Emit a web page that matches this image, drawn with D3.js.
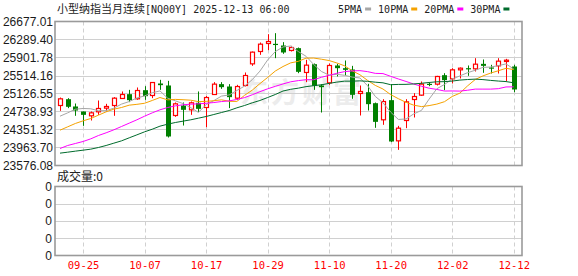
<!DOCTYPE html>
<html><head><meta charset="utf-8">
<script src="https://cdn.jsdelivr.net/npm/d3@7/dist/d3.min.js"></script>
<style>
html,body{margin:0;padding:0;background:#fff;}
svg{display:block;}
</style>
</head><body>
<svg id="c" width="578" height="276"></svg>
<script>
const dates = ["09-22","09-23","09-24","09-25","09-26","09-29","09-30","10-01","10-02","10-03",
"10-06","10-07","10-08","10-09","10-10","10-13","10-14","10-15","10-16","10-17",
"10-20","10-21","10-22","10-23","10-24","10-27","10-28","10-29","10-30","10-31",
"11-03","11-04","11-05","11-06","11-07","11-10","11-11","11-12","11-13","11-14",
"11-17","11-18","11-19","11-20","11-21","11-24","11-25","11-26","11-27","11-28",
"12-01","12-02","12-03","12-04","12-05","12-08","12-09","12-10","12-11","12-12"];
const opens = [24868,25004,24847,24739,24646,24732,24811,24868,25019,25112,
25012,25198,25083,25342,25299,24653,24868,24775,24926,24825,
25105,25328,25277,25026,25299,25765,26031,26203,26196,26160,
26053,26103,25579,25758,25299,25356,25730,25672,25643,25127,
25155,24918,24560,24983,24107,24545,24997,25091,25335,25328,
25521,25442,25636,25672,25658,25765,25687,25722,25816,25708];
const highs = [25040,25026,24911,24739,24739,24976,24904,25048,25170,25205,
25256,25284,25370,25421,25399,24933,24933,24954,25170,25076,
25371,25371,25328,25313,25579,26031,26225,26404,26426,26232,
26153,26117,25852,25773,25328,25773,25765,25837,25722,25299,
25335,24932,25004,25328,24430,25004,25134,25385,25363,25507,
25564,25672,25687,25730,25887,25859,25744,25887,25873,25744];
const lows = [24753,24811,24646,24430,24545,24667,24739,24646,25019,24940,
24990,24990,25026,25205,24179,24624,24437,24667,24725,24402,
25098,25227,24811,24990,25277,25722,25959,26060,25887,25981,
26031,25564,25371,25205,24717,25313,25493,25514,25012,24653,
24760,24387,24452,24080,23913,24380,24610,25076,25284,25299,
25198,25342,25450,25507,25600,25572,25557,25557,25392,25155];
const closes = [25012,24840,24760,24667,24710,24804,24847,25026,25105,24983,
25191,25069,25363,25306,24201,24904,24775,24926,24796,25040,
25328,25263,25048,25277,25514,26017,26189,26246,26182,26010,
26117,25593,25737,25292,25263,25730,25672,25636,25098,25170,
24897,24516,24954,24093,24380,24947,25062,25328,25313,25493,
25414,25636,25672,25658,25758,25722,25672,25823,25844,25213];
const ma5Head = [24638,24710,24789,24804];
const ma10Head = [24337,24409,24481,24538,24588,24660,24732,24789,24825];
const ma20Head = [23942,24007,24050,24093,24150,24222,24280,24344,24416,24488,
24560,24638,24710,24775,24825,24861,24883,24897,24904];
const ma30Head = [23842,23863,23885,23906,23928,23964,24007,24057,24107,24172,
24236,24301,24358,24423,24466,24502,24531,24560,24595,24631,
24674,24717,24760,24818,24868,24926,24976,25040,25105];
const yTicks = [26677.01,26289.40,25901.78,25514.16,25126.55,24738.93,24351.32,23963.70,23576.08];
const xTickLabels = ["09-25","10-07","10-17","10-29","11-10","11-20","12-02","12-12"];
const volTickLabels = ["0","0","0","0","0"];
const maNames = ["5PMA","10PMA","20PMA","30PMA"];
const maPeriods = [5,10,20,30];
const maColors = ["#a6a6a6","#f5a200","#ff00ff","#006b2c"];
const titleCJK = "小型纳指当月连续";
const titleRest = "[NQ00Y] 2025-12-13 06:00";

const svg = d3.select("#c");
const L = 55, R = 522, T = 21.5, B = 165.5;
const VT = 186.5, VB = 255.5;
const x = d3.scalePoint().domain(dates).range([60, 513.7]);
const y = d3.scaleLinear().domain([23576.08, 26677.01]).range([B, T]);
const vy = d3.scalePoint().domain(d3.range(volTickLabels.length)).range([VT, VB]);
const gridC = "#d0d0d0", borderC = "#9a9a9a";
const px = v => Math.round(v) + 0.5;

// title
const title = svg.append("text").attr("x", 57).attr("y", 13).attr("fill", "#222");
title.append("tspan").attr("font-family", "'Noto Sans CJK SC'").attr("font-size", 11).text(titleCJK);
title.append("tspan").attr("font-family", "'DejaVu Sans Mono'").attr("font-size", 10).text(titleRest);

// legend
let lx = 338;
maNames.forEach((n, k) => {
  const t = svg.append("text").attr("x", lx).attr("y", 13).attr("font-family", "'DejaVu Sans Mono'")
    .attr("font-size", 10).attr("fill", "#222").text(n);
  const w = t.node().getComputedTextLength();
  svg.append("rect").attr("x", lx + w + 3).attr("y", 7.5).attr("width", 6).attr("height", 3).attr("fill", maColors[k]);
  lx += w + 3 + 6 + 7;
});

// watermark
svg.append("text").attr("x", 240).attr("y", 103).attr("font-family", "'Noto Sans CJK SC'")
  .attr("font-size", 28).attr("font-weight", "bold").attr("letter-spacing", 3)
  .attr("fill", "#ececec").text("东方财富");

// main grid
const g = svg.append("g");
g.selectAll("line.h").data(yTicks.slice(1, -1)).join("line")
  .attr("x1", L).attr("x2", R).attr("y1", d => px(y(d))).attr("y2", d => px(y(d)))
  .attr("stroke", gridC).attr("stroke-width", 1);
g.selectAll("line.v").data(xTickLabels).join("line")
  .attr("x1", d => px(x(d))).attr("x2", d => px(x(d))).attr("y1", T).attr("y2", B)
  .attr("stroke", gridC).attr("stroke-dasharray", "4,3");

// y axis labels
const ya = svg.append("g").attr("transform", `translate(${L - 2},0)`)
  .call(d3.axisLeft(y).tickValues(yTicks).tickFormat(d3.format(".2f")).tickSize(0).tickPadding(0));
ya.select(".domain").remove();
ya.selectAll("text").attr("font-family", "'Liberation Sans', Arial").attr("font-size", 12).attr("fill", "#1a1a1a");

// candles
const cg = svg.append("g");
dates.forEach((d, i) => {
  const cx = Math.round(x(d));
  const up = closes[i] >= opens[i];
  const col = up ? "#ff0000" : "#008000";
  cg.append("line").attr("x1", cx + 0.5).attr("x2", cx + 0.5)
    .attr("y1", y(highs[i])).attr("y2", y(lows[i])).attr("stroke", col).attr("stroke-width", 1);
  const top = y(Math.max(opens[i], closes[i])), bot = y(Math.min(opens[i], closes[i]));
  if (up) {
    cg.append("rect").attr("x", cx - 1.5).attr("y", top).attr("width", 4).attr("height", Math.max(1, bot - top))
      .attr("fill", "#fff").attr("stroke", col).attr("stroke-width", 1.2);
  } else {
    cg.append("rect").attr("x", cx - 2).attr("y", top).attr("width", 5).attr("height", Math.max(1.2, bot - top))
      .attr("fill", col);
  }
});

// moving averages
const heads = [ma5Head, ma10Head, ma20Head, ma30Head];
const line = d3.line().x((v, i) => x(dates[i])).y(v => y(v));
maPeriods.forEach((p, k) => {
  const vals = closes.map((c, i) => i < p - 1 ? heads[k][i] : d3.mean(closes.slice(i - p + 1, i + 1)));
  svg.append("path").attr("d", line(vals)).attr("fill", "none").attr("stroke", maColors[k]).attr("stroke-width", 1);
});

// main border
svg.append("rect").attr("x", L).attr("y", T).attr("width", R - L).attr("height", B - T)
  .attr("fill", "none").attr("stroke", borderC).attr("stroke-width", 1.6);

// volume panel
svg.append("text").attr("x", 57).attr("y", 181).attr("fill", "#222")
  .attr("font-family", "'Noto Sans CJK SC'").attr("font-size", 12).text("成交量:0");
const vg = svg.append("g");
vg.selectAll("line.h").data(d3.range(1, volTickLabels.length - 1)).join("line")
  .attr("x1", L).attr("x2", R).attr("y1", d => px(vy(d))).attr("y2", d => px(vy(d)))
  .attr("stroke", gridC);
vg.selectAll("line.v").data(xTickLabels).join("line")
  .attr("x1", d => px(x(d))).attr("x2", d => px(x(d))).attr("y1", VT).attr("y2", VB)
  .attr("stroke", gridC).attr("stroke-dasharray", "4,3");
const va = svg.append("g").attr("transform", `translate(${L - 3},0)`)
  .call(d3.axisLeft(vy).tickFormat(i => volTickLabels[i]).tickSize(0).tickPadding(0));
va.select(".domain").remove();
va.selectAll("text").attr("font-family", "'Liberation Sans', Arial").attr("font-size", 12).attr("fill", "#1a1a1a");
svg.append("rect").attr("x", L).attr("y", VT).attr("width", R - L).attr("height", VB - VT)
  .attr("fill", "none").attr("stroke", borderC).attr("stroke-width", 1.6);

// x axis labels
const xa = svg.append("g").attr("transform", `translate(0,${VB})`)
  .call(d3.axisBottom(x).tickValues(xTickLabels).tickSize(0).tickPadding(6));
xa.select(".domain").remove();
xa.selectAll("text").attr("font-family", "'DejaVu Sans Mono'").attr("font-size", 10.5).attr("fill", "#ff0000");
</script>
</body></html>
